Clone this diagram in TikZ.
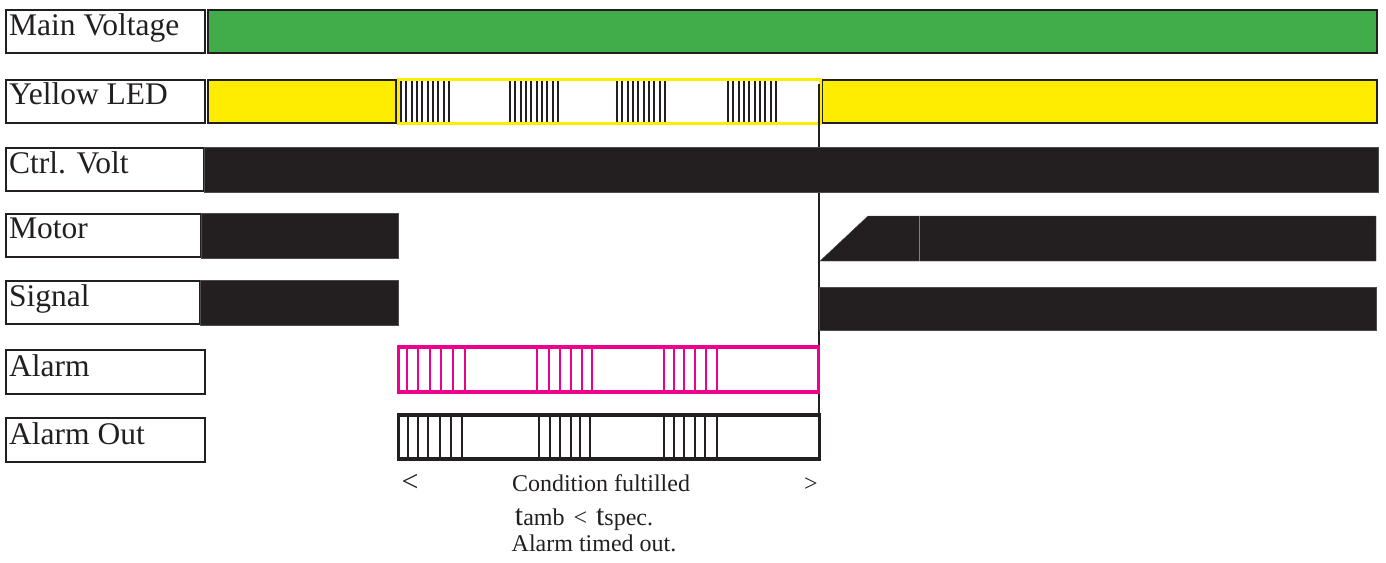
\documentclass[tikz,border=0pt]{standalone}
\usepackage{fontspec}
\setmainfont{Liberation Serif}
\definecolor{ink}{RGB}{35,31,32}
\definecolor{mvgreen}{RGB}{64,173,74}
\definecolor{ledyellow}{RGB}{255,237,0}
\definecolor{alarmpink}{RGB}{236,0,140}
\tikzset{
  lblbox/.style={draw=ink, line width=2pt, fill=white},
  lbltxt/.style={anchor=base west, inner sep=0pt, text=ink, font=\fontsize{31.5}{32}\selectfont},
  bar/.style={fill=ink, draw=ink!80, line width=0.4pt},
  colbar/.style={draw=ink, line width=2pt},
  ystripe/.style={draw=ink, line width=2.2pt},
  pstripe/.style={draw=alarmpink, line width=1.6pt},
  kstripe/.style={draw=ink, line width=1.6pt},
  note/.style={anchor=base, inner sep=0pt, text=ink, font=\fontsize{24}{25}\selectfont},
}
\begin{document}
\begin{tikzpicture}[x=1pt,y=-1pt]
\useasboundingbox (0,0) rectangle (1386,562);

% label column
\draw[lblbox] (6,10) rectangle (205,53);
\draw[lblbox] (6,80) rectangle (205,123);
\draw[lblbox] (6,148) rectangle (204,191);
\draw[lblbox] (6,214) rectangle (201,257);
\draw[lblbox] (6,281) rectangle (200,324);
\draw[lblbox] (6,350) rectangle (205,394);
\draw[lblbox] (6,418) rectangle (205,462);
\node[lbltxt] (tmv)  at (9,35)  {Main Voltage};
\node[lbltxt] (tled) at (9,104) {Yellow LED};
\node[lbltxt] (tcv)  at (9,173) {Ctrl. Volt};
\node[lbltxt] (tmot) at (9,238) {Motor};
\node[lbltxt] (tsig) at (9,306) {Signal};
\node[lbltxt] (tal)  at (9,376) {Alarm};
\node[lbltxt] (talo) at (9,444) {Alarm Out};

% main voltage
\draw[colbar, fill=mvgreen] (208,10) rectangle (1377,53);

% yellow LED: steady, blinking, steady
\draw[colbar, fill=ledyellow] (208,80) rectangle (396,123);
\draw[colbar, fill=ledyellow] (822,80) rectangle (1377,123);
\foreach \g in {401,510,617,728}{
  \foreach \i in {0,...,9}{
    \draw[ystripe] ({\g+5.33*\i},81) -- ({\g+5.33*\i},122);
  }
}
\draw[draw=ledyellow, line width=3pt] (398,79.5) rectangle (820,123);

% switching instant
\draw[draw=ink, line width=2pt] (818.5,84) -- (818.5,414);

% control voltage
\fill[bar] (204,147) rectangle (1378,192);

% motor
\fill[bar] (201,213) rectangle (398,258);
\fill[bar] (820,261) -- (868,216) -- (1376,216) -- (1376,261) -- cycle;
\draw[draw=gray, line width=0.6pt] (919,216) -- (919,261);

% signal
\fill[bar] (200,280) rectangle (398,325);
\fill[bar] (819,287) rectangle (1376,330);

% alarm
\foreach \x in {407,418,430,441,453,465,537,549,560,571,582,592,664,674,684,695,706,717}{
  \draw[pstripe] (\x,347) -- (\x,392);
}
\draw[draw=alarmpink, line width=3.2pt] (398.5,347) rectangle (818.5,392);

% alarm out
\foreach \x in {408,418,428,440,451,462,539,550,560,571,580,590,664,674,684,695,705,717}{
  \draw[kstripe] (\x,415) -- (\x,459);
}
\draw[draw=ink, line width=3.2pt] (398.5,415) rectangle (819.5,459);

% annotations
\node[note, font=\fontsize{30}{30}\selectfont] (lt) at (410,491) {<};
\node[note] (cond) at (601,491) {Condition fultilled};
\node[note] (gt)   at (811,491) {>};
\node[note] (temp) at (584,525) {{\fontsize{30}{30}\selectfont t}amb\hspace{9pt}<\hspace{9pt}{\fontsize{30}{30}\selectfont t}spec.};
\node[note] (tout) at (594,551) {Alarm timed out.};
\end{tikzpicture}
\end{document}
